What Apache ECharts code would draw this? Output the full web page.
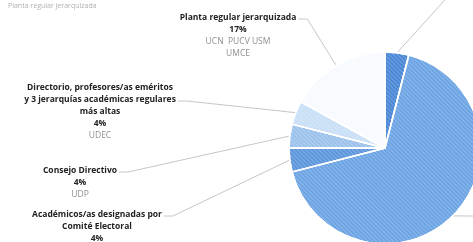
<!DOCTYPE html>
<html>
<head>
<meta charset="utf-8">
<script src="https://cdn.jsdelivr.net/npm/echarts@6/dist/echarts.min.js"></script>
<style>
  html, body { margin: 0; padding: 0; background: #fff; }
  #chart { width: 473px; height: 242px; }
</style>
</head>
<body>
<div id="chart"></div>
<script>
// slices, clockwise from 12 o'clock
const categories = [
  'Otros',
  'Académicos/as con derecho a voto',
  'Académicos/as designadas por\nComité Electoral',
  'Consejo Directivo',
  'Directorio, profesores/as eméritos\ny 3 jerarquías académicas regulares\nmás altas',
  'Planta regular jerarquizada'
];
const shares = [4, 67, 4, 4, 4, 17];
const universities = ['', '', '', 'UDP', 'UDEC', 'UCN  PUCV USM\nUMCE'];
const legendItems = ['Planta regular jerarquizada'];

// fill colours per slice
const sliceColors = ['#4a87d6', '#6ca4e4', '#5c96dc', '#9cc2ec', '#c9dff6', '#f7fafe'];
// label block: centre x, top y, and which text line the leader hooks onto
const labelSpots = [
  [470, -60, 0], [520, 210, 0], [97, 209, 0], [80, 165, 0], [100, 82, 1], [238, 12, 0]
];
const FONT = 8.5;
const LH = 12;

const chart = echarts.init(document.getElementById('chart'));

const measure = document.createElement('canvas').getContext('2d');
measure.font = 'bold ' + FONT + 'px "Open Sans"';

const hatch = {
  symbol: 'rect',
  symbolSize: 1,
  dashArrayX: [[1, 0]],
  dashArrayY: [1, 2],
  rotation: Math.PI / 4,
  color: 'rgba(255,255,255,0.22)'
};

function labelText(i) {
  const name = categories[i].split('\n').map(s => '{n|' + s + '}').join('\n');
  let txt = name + '\n{p|' + shares[i] + '%}';
  if (universities[i]) {
    txt += '\n' + universities[i].split('\n').map(s => '{u|' + s + '}').join('\n');
  }
  return txt;
}

const option = {
  animation: false,
  legend: {
    data: legendItems,
    left: -3,
    top: -3,
    icon: 'circle',
    itemWidth: 2,
    itemHeight: 2,
    itemGap: 4,
    itemStyle: { color: '#c8c8c8' },
    textStyle: { color: '#b0b0b0', fontSize: 7, fontFamily: 'Open Sans', padding: [0, 0, 0, -2] }
  },
  series: [{
    type: 'pie',
    center: [385, 148],
    radius: 96,
    startAngle: 90,
    clockwise: true,
    itemStyle: { borderColor: '#fff', borderWidth: 1.5 },
    label: {
      show: true,
      position: 'outside',
      formatter: p => labelText(p.dataIndex),
      align: 'center',
      lineHeight: LH,
      rich: {
        n: { fontFamily: 'Open Sans', fontSize: FONT, fontWeight: 'bold', color: '#222', lineHeight: LH },
        p: { fontFamily: 'Open Sans', fontSize: FONT, fontWeight: 'bold', color: '#222', lineHeight: LH },
        u: { fontFamily: 'Open Sans', fontSize: FONT, color: '#8f8f8f', lineHeight: LH }
      }
    },
    labelLine: {
      show: true,
      lineStyle: { color: '#b8b8b8', width: 0.8 }
    },
    labelLayout: function (params) {
      const i = params.dataIndex;
      const s = labelSpots[i];
      const out = { x: s[0], y: s[1], align: 'center', verticalAlign: 'top' };
      const pts = params.labelLinePoints;
      if (pts && pts.length) {
        const line = categories[i].split('\n')[s[2]];
        const w = measure.measureText(line).width;
        const endX = s[0] + w / 2 + 2;
        const endY = s[1] + LH * s[2] + LH / 2 + 1;
        out.labelLinePoints = [pts[0], [endX + 9, endY], [endX, endY]];
      }
      return out;
    },
    data: categories.map((c, i) => ({
      name: c.replace(/\n/g, ' '),
      value: shares[i],
      itemStyle: { color: sliceColors[i], decal: hatch }
    }))
  }]
};

chart.setOption(option);
</script>
</body>
</html>
